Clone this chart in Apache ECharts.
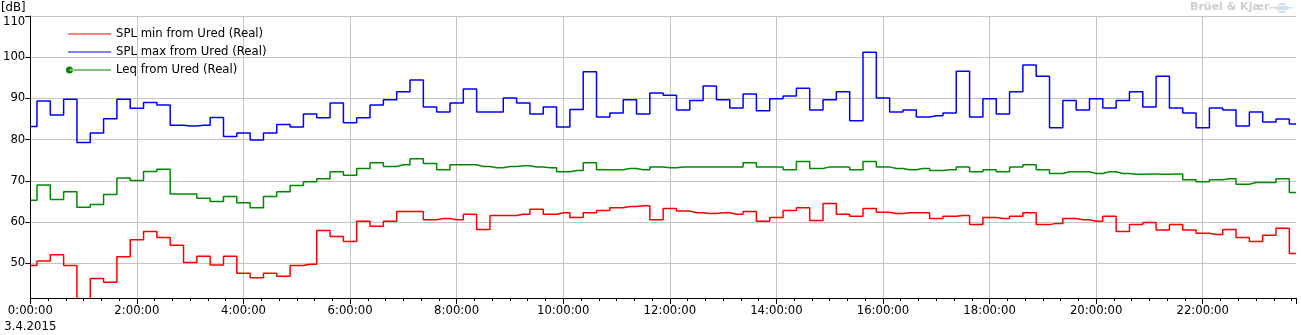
<!DOCTYPE html>
<html>
<head>
<meta charset="utf-8">
<script src="https://cdn.jsdelivr.net/npm/echarts@6/dist/echarts.min.js"></script>
<style>
html,body{margin:0;padding:0;background:#fff;}
#chart{width:1301px;height:335px;}
</style>
</head>
<body>
<div id="chart"></div>
<script>
// time of each 15-minute interval, in minutes after midnight (0:00 ... 23:45)
const times = Array.from({length: 96}, (_, i) => i * 15);

const seriesNames = ['SPL min from Ured (Real)', 'SPL max from Ured (Real)', 'Leq from Ured (Real)'];

const splMin = [
  49.5, 50.6, 52.1, 49.5, 38.0, 46.3, 45.4, 51.6, 55.7, 57.7,
  56.3, 54.4, 50.2, 51.7, 49.6, 51.7, 47.6, 46.5, 47.6, 46.9,
  49.5, 49.8, 58.0, 56.5, 55.3, 60.2, 59.0, 60.2, 62.6, 62.6,
  60.6, 60.9, 60.6, 61.9, 58.2, 61.6, 61.6, 61.9, 63.1, 61.9,
  62.3, 61.1, 62.3, 62.8, 63.5, 63.8, 64.0, 60.6, 63.3, 62.7,
  62.3, 62.1, 62.3, 61.9, 62.6, 60.2, 61.1, 62.8, 63.5, 60.4,
  64.5, 61.9, 61.4, 63.3, 62.4, 62.1, 62.3, 62.3, 60.9, 61.4,
  61.6, 59.4, 61.1, 60.9, 61.4, 62.3, 59.4, 59.7, 60.9, 60.6,
  60.2, 61.4, 57.7, 59.4, 59.9, 58.1, 59.4, 58.1, 57.3, 57.0,
  58.2, 56.3, 55.3, 56.8, 58.5, 52.4
];

const splMax = [
  83.2, 89.4, 86.0, 89.8, 79.3, 81.6, 85.1, 89.8, 87.6, 89.0,
  88.4, 83.5, 83.3, 83.5, 85.4, 80.8, 81.6, 79.9, 81.6, 83.7,
  83.1, 86.2, 85.3, 88.9, 84.1, 85.3, 88.4, 89.7, 91.6, 94.5,
  87.9, 86.7, 88.9, 92.3, 86.7, 86.7, 90.1, 88.9, 86.2, 87.9,
  83.1, 87.3, 96.5, 85.5, 86.5, 89.7, 86.2, 91.3, 90.8, 87.2,
  89.5, 93.0, 89.7, 87.7, 91.1, 87.0, 89.9, 90.6, 92.5, 87.2,
  89.7, 91.6, 84.6, 101.2, 90.1, 86.7, 87.2, 85.5, 85.8, 86.5,
  96.6, 85.5, 89.9, 86.2, 91.6, 98.1, 95.4, 82.9, 89.5, 87.2,
  89.9, 87.7, 89.5, 91.6, 87.9, 95.4, 87.7, 86.5, 82.9, 87.7,
  87.2, 83.3, 86.7, 84.3, 85.0, 83.8
];

const leq = [
  65.3, 69.0, 65.5, 67.4, 63.6, 64.3, 66.7, 70.7, 70.1, 72.3,
  72.8, 66.8, 66.8, 65.8, 65.0, 66.2, 64.7, 63.5, 66.2, 67.4,
  68.9, 69.8, 70.5, 72.2, 71.4, 73.0, 74.4, 73.5, 73.9, 75.4,
  74.2, 72.7, 73.9, 73.9, 73.5, 73.2, 73.5, 73.7, 73.4, 73.2,
  72.2, 72.5, 74.4, 72.7, 72.7, 73.0, 72.7, 73.4, 73.2, 73.4,
  73.4, 73.4, 73.4, 73.4, 74.4, 73.4, 73.4, 72.7, 74.7, 73.0,
  73.4, 73.4, 72.7, 74.7, 73.4, 73.0, 72.7, 73.0, 72.5, 72.7,
  73.4, 72.2, 72.7, 72.2, 73.4, 73.9, 72.7, 71.8, 72.2, 72.2,
  71.8, 72.2, 71.8, 71.6, 71.7, 71.6, 71.7, 70.3, 69.8, 70.3,
  70.5, 69.2, 69.6, 69.6, 70.5, 67.2
];

const yTickLabels = [50, 60, 70, 80, 90, 100, 110];
const dateLabel = '3.4.2015';
const unitLabel = '[dB]';
const brandLabel = 'Brüel & Kjær';

const FONT = 'DejaVu Sans';
const colors = ['#ff0000', '#0000ff', '#008a00'];

const chart = echarts.init(document.getElementById('chart'), null, {renderer: 'canvas'});

function pairs(vals) { return times.map((t, i) => [t, vals[i]]); }

const option = {
  animation: false,
  backgroundColor: '#ffffff',
  grid: {left: 30, right: 5, top: 16, bottom: 36, containLabel: false},
  xAxis: {
    type: 'value',
    min: 0,
    max: times[times.length - 1],
    interval: 120,
    axisLine: {show: true, lineStyle: {color: '#000', width: 1}},
    axisTick: {show: true, length: 6, lineStyle: {color: '#000'}},
    minorTick: {show: true, splitNumber: 6, length: 3, lineStyle: {color: '#000'}},
    splitLine: {show: true, showMinLine: false, showMaxLine: false, lineStyle: {color: '#c4c4c4', width: 1}},
    axisLabel: {
      fontFamily: FONT, fontSize: 11.7, color: '#000', margin: 5, lineHeight: 16,
      showMaxLabel: false,
      formatter: function (v) {
        const h = Math.round(v / 60);
        const s = h + ':00:00';
        return v === 0 ? s + '\n' + dateLabel : s;
      }
    }
  },
  yAxis: {
    type: 'value',
    min: 41.6,
    max: 110,
    axisLine: {show: true, lineStyle: {color: '#000', width: 1}},
    axisTick: {show: true, length: 5, customValues: yTickLabels, lineStyle: {color: '#000'}},
    splitLine: {show: true, lineStyle: {color: '#c4c4c4', width: 1}},
    axisLabel: {
      fontFamily: FONT, fontSize: 11.7, color: '#000', margin: 5,
      customValues: yTickLabels,
      formatter: function (v) {
        return v === 110 ? '{t|' + v + '}' : String(v);
      },
      rich: {t: {fontFamily: FONT, fontSize: 11.7, color: '#000', padding: [12, 0, 0, 0]}}
    }
  },
  legend: [
    {
      data: [
        {name: seriesNames[0], itemStyle: {color: colors[0], borderWidth: 0}},
        {name: seriesNames[1], itemStyle: {color: colors[1], borderWidth: 0}}
      ],
      orient: 'vertical', left: 68, top: 27, padding: 0,
      icon: 'rect', itemWidth: 43, itemHeight: 1.2, itemGap: 4,
      selectedMode: false,
      textStyle: {fontFamily: FONT, fontSize: 11.7, color: '#000', lineHeight: 14}
    },
    {
      data: [{name: seriesNames[2], itemStyle: {color: colors[2], borderWidth: 0}}],
      orient: 'vertical', left: 66, top: 63, padding: 0,
      icon: 'path://M0,3.5 A3.5,3.5 0 1,0 7,3.5 A3.5,3.5 0 1,0 0,3.5 Z M3.5,2.9 L45,2.9 L45,4.1 L3.5,4.1 Z',
      itemWidth: 45, itemHeight: 7, itemGap: 4,
      selectedMode: false,
      textStyle: {fontFamily: FONT, fontSize: 11.7, color: '#000', lineHeight: 14}
    }
  ],
  graphic: [
    {type: 'text', left: 1, top: 2, style: {text: unitLabel, font: '11.7px "DejaVu Sans"', fill: '#000'}},
    {type: 'text', left: 1190, top: 2, style: {text: brandLabel, font: 'bold 11px "DejaVu Sans"', fill: '#cdcdcd'}},
    {type: 'group', left: 1269, top: 3, children: [
      {type: 'ellipse', shape: {cx: 13, cy: 5, rx: 6, ry: 5}, style: {fill: '#cfdcee'}},
      {type: 'rect', shape: {x: 0, y: 4, width: 24, height: 1.5}, style: {fill: '#d5e0ef'}},
      {type: 'rect', shape: {x: 3, y: 7, width: 19, height: 1}, style: {fill: '#ffffff'}},
      {type: 'rect', shape: {x: 3, y: 2, width: 19, height: 1}, style: {fill: '#ffffff'}}
    ]}
  ],
  series: [
    {name: seriesNames[0], type: 'line', step: 'middle', showSymbol: false, symbol: 'none',
     data: pairs(splMin), lineStyle: {color: colors[0], width: 1.5}, itemStyle: {color: colors[0]}, z: 3},
    {name: seriesNames[1], type: 'line', step: 'middle', showSymbol: false, symbol: 'none',
     data: pairs(splMax), lineStyle: {color: colors[1], width: 1.5}, itemStyle: {color: colors[1]}, z: 3},
    {name: seriesNames[2], type: 'line', step: 'middle', showSymbol: false, symbol: 'none',
     data: pairs(leq), lineStyle: {color: colors[2], width: 1.5}, itemStyle: {color: colors[2]}, z: 3}
  ]
};
chart.setOption(option);
</script>
</body>
</html>
